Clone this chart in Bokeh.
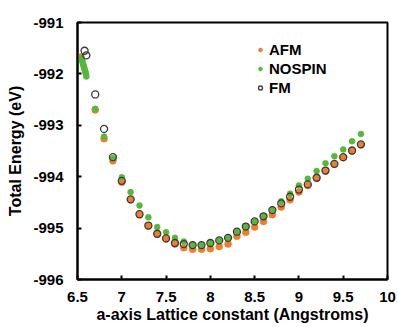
from bokeh.plotting import figure
from bokeh.models import Range1d, FixedTicker, Legend, LegendItem
from bokeh.embed import file_html
from bokeh.resources import INLINE

# ---- data ----
afm_x = [6.54, 6.7, 6.8, 6.9, 7.0, 7.1, 7.2, 7.3, 7.4, 7.5, 7.6, 7.7, 7.8, 7.9, 8.0,
         8.1, 8.2, 8.3, 8.4, 8.5, 8.6, 8.7, 8.8, 8.9, 9.0, 9.1, 9.2, 9.3, 9.4, 9.5, 9.6, 9.7]
afm_y = [-991.67, -992.70, -993.26, -993.69, -994.11, -994.45, -994.74, -994.96, -995.12,
         -995.21, -995.31, -995.38, -995.41, -995.41, -995.40, -995.36, -995.31, -995.16,
         -995.08, -994.98, -994.87, -994.74, -994.59, -994.45, -994.30, -994.17, -994.03,
         -993.89, -993.76, -993.63, -993.50, -993.38]

nospin_x = [6.545, 6.55, 6.555, 6.56, 6.565, 6.57, 6.575, 6.58, 6.585, 6.59, 6.595, 6.60,
            6.7, 6.8, 6.9, 7.0, 7.1, 7.2, 7.3, 7.4, 7.5, 7.6, 7.7, 7.8, 7.9, 8.0,
            8.1, 8.2, 8.3, 8.4, 8.5, 8.6, 8.7, 8.8, 8.9, 9.0, 9.1, 9.2, 9.3, 9.4, 9.5, 9.6, 9.7]
nospin_y = [-991.70, -991.73, -991.76, -991.79, -991.82, -991.85, -991.88, -991.91, -991.94,
            -991.97, -992.00, -992.05,
            -992.68, -993.22, -993.64, -994.01, -994.30, -994.56, -994.79, -994.98, -995.08,
            -995.19, -995.26, -995.32, -995.33, -995.29, -995.24, -995.19, -995.07, -994.97,
            -994.87, -994.77, -994.64, -994.48, -994.33, -994.17, -994.04, -993.89, -993.74,
            -993.60, -993.47, -993.31, -993.17]

fm_x = [6.58, 6.6, 6.7, 6.8, 6.9, 7.0, 7.1, 7.2, 7.3, 7.4, 7.5, 7.6, 7.7, 7.8, 7.9, 8.0,
        8.1, 8.2, 8.3, 8.4, 8.5, 8.6, 8.7, 8.8, 8.9, 9.0, 9.1, 9.2, 9.3, 9.4, 9.5, 9.6, 9.7]
fm_y = [-991.55, -991.64, -992.40, -993.07, -993.62, -994.08, -994.44, -994.73, -994.95,
        -995.11, -995.20, -995.29, -995.31, -995.33, -995.33, -995.29, -995.24, -995.19,
        -995.07, -994.97, -994.87, -994.77, -994.65, -994.52, -994.39, -994.25, -994.15,
        -994.02, -993.88, -993.75, -993.62, -993.49, -993.37]

series_names = ["AFM", "NOSPIN", "FM"]
x_ticks = [6.5, 7, 7.5, 8, 8.5, 9, 9.5, 10]
x_tick_labels = ["6.5", "7", "7.5", "8", "8.5", "9", "9.5", "10"]
y_ticks = [-996, -995, -994, -993, -992, -991]
y_tick_labels = ["-996", "-995", "-994", "-993", "-992", "-991"]
x_title = "a-axis Lattice constant (Angstroms)"
y_title = "Total Energy (eV)"

FONT = "Liberation Sans"

p = figure(width=396, height=327, output_backend="svg", toolbar_location=None,
           x_range=Range1d(6.5, 10), y_range=Range1d(-996, -991),
           min_border_left=77, min_border_right=9, min_border_top=22, min_border_bottom=48)
p.xgrid.visible = False
p.ygrid.visible = False
p.outline_line_color = "black"
p.outline_line_width = 2
p.outline_line_alpha = 1

for ax in (p.xaxis[0], p.yaxis[0]):
    ax.axis_line_color = "black"
    ax.axis_line_width = 2
    ax.major_tick_in = 4
    ax.major_tick_out = 0
    ax.major_tick_line_width = 2
    ax.minor_tick_line_color = None
    ax.major_label_text_font = FONT
    ax.major_label_text_font_style = "bold"
    ax.major_label_text_font_size = "15px"
    ax.major_label_text_color = "black"
    ax.axis_label_text_font = FONT
    ax.axis_label_text_font_style = "bold"
    ax.axis_label_text_font_size = "16px"
    ax.axis_label_text_color = "black"

p.xaxis[0].ticker = FixedTicker(ticks=x_ticks)
p.xaxis[0].major_label_overrides = {t: l for t, l in zip(x_ticks, x_tick_labels)}
p.yaxis[0].ticker = FixedTicker(ticks=y_ticks)
p.yaxis[0].major_label_overrides = {t: l for t, l in zip(y_ticks, y_tick_labels)}
p.xaxis[0].axis_label = x_title
p.yaxis[0].axis_label = y_title
p.xaxis[0].major_label_standoff = 12
p.xaxis[0].axis_label_standoff = 1
p.yaxis[0].major_label_standoff = 14
p.yaxis[0].axis_label_standoff = 6

r_afm = p.scatter(afm_x, afm_y, size=7, fill_color="#ED7D31", line_color="#ED7D31", line_width=0.5)
r_nos = p.scatter(nospin_x, nospin_y, size=6, fill_color="#55B83A", line_color="#55B83A", line_width=0.5)
r_fm = p.scatter(fm_x, fm_y, size=7, fill_color=None, line_color="#3a3a3a", line_width=1.3)

legend = Legend(items=[LegendItem(label=series_names[0], renderers=[r_afm]),
                       LegendItem(label=series_names[1], renderers=[r_nos]),
                       LegendItem(label=series_names[2], renderers=[r_fm])],
                location=(178, 182), orientation="vertical",
                glyph_width=10, glyph_height=19, label_height=19, label_standoff=4,
                spacing=0, padding=0, margin=0,
                border_line_color=None, background_fill_color=None,
                label_text_font=FONT, label_text_font_style="bold",
                label_text_font_size="15px", label_text_color="black")
p.add_layout(legend, "center")

open("out.html", "w").write(file_html(p, INLINE))
